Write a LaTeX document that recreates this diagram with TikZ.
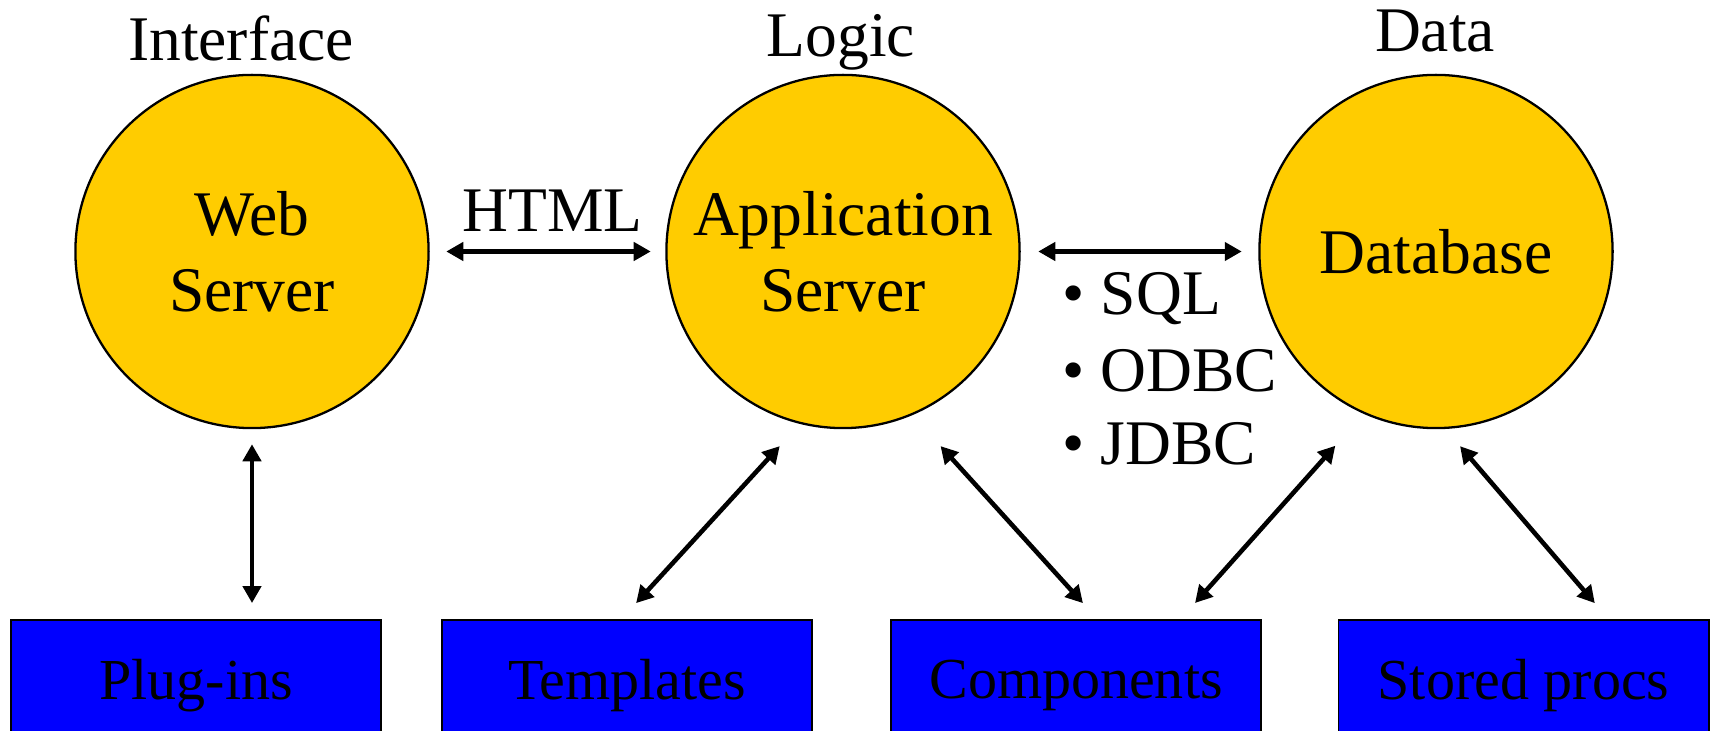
\documentclass[tikz,border=0pt]{standalone}
\usepackage{fontspec}
\setmainfont{Liberation Serif}
\usetikzlibrary{arrows.meta,calc}
\definecolor{tiergold}{HTML}{FFCC00}
\definecolor{modblue}{HTML}{0000FF}

\begin{document}
\begin{tikzpicture}[x=0.01cm,y=-0.01cm,
  tier/.style={circle, draw=black, line width=0.65pt, fill=tiergold,
    minimum size=3.53cm, inner sep=0pt, align=center,
    font=\fontsize{18.07}{21.6}\selectfont},
  module/.style={rectangle, draw=black, line width=0.5pt, fill=modblue,
    minimum width=3.70cm, minimum height=1.31cm, inner sep=0pt,
    font=\fontsize{16.5}{19}\selectfont},
  caption/.style={inner sep=0pt, font=\fontsize{18.07}{21.6}\selectfont},
  link/.style={line width=1.3pt,
    {Triangle[length=1.7mm,width=1.8mm]}-{Triangle[length=1.7mm,width=1.8mm]}},
]
\useasboundingbox (0,0) rectangle (1715,731);
\clip (0,0) rectangle (1715,731);

% three tiers
\node[tier] (web) at (252,251.5) {Web\\Server};
\node[tier] (app) at (843,251.5) {Application\\Server};
\node[tier] (db)  at (1436,251.5) {Database};

% tier headings
\node[caption, anchor=base] (ifc) at (241,61) {Interface};
\node[caption, anchor=base] (lgc) at (841,57) {Logic};
\node[caption, anchor=base] (dat) at (1435,52) {Data};

% modules along the bottom
\node[module] (plug) at (196,685.5)    {Plug-ins};
\node[module] (tmpl) at (627,685.5)    {Templates};
\node[module] (comp) at (1076,685.5)   {Components};
\node[module] (proc) at (1523.5,685.5) {Stored procs};

% protocol labels
\node[caption, anchor=base] (html) at (552.5,232) {HTML};
\node[caption, anchor=base west] (sql)  at (1062,315) {\textbullet\ SQL};
\node[caption, anchor=base west] (odbc) at (1062,392) {\textbullet\ ODBC};
\node[caption, anchor=base west] (jdbc) at (1062,465) {\textbullet\ JDBC};

% links between tiers
\draw[link, shorten <=1.65mm, shorten >=1.45mm] (web.east) -- (app.west);
\draw[link, shorten <=1.75mm, shorten >=1.65mm] (app.east) -- (db.west);

% links from tiers to modules
\draw[link, shorten <=1.5mm, shorten >=1.6mm] (web.south) -- (web.south |- plug.north);
\draw[link, shorten <=3.0mm, shorten >=2.16mm] (app.256) -- ($(tmpl.north)+(-5.5,0)$);
\draw[link, shorten <=4.18mm, shorten >=2.15mm] (app.293) -- ($(comp.north)+(21.4,0)$);
\draw[link, shorten <=4.26mm, shorten >=2.15mm] (db.246.4) -- ($(comp.north)+(104.7,0)$);
\draw[link, shorten <=2.26mm, shorten >=2.1mm] (db.273) -- ($(proc.north)+(85,0)$);
\end{tikzpicture}
\end{document}
